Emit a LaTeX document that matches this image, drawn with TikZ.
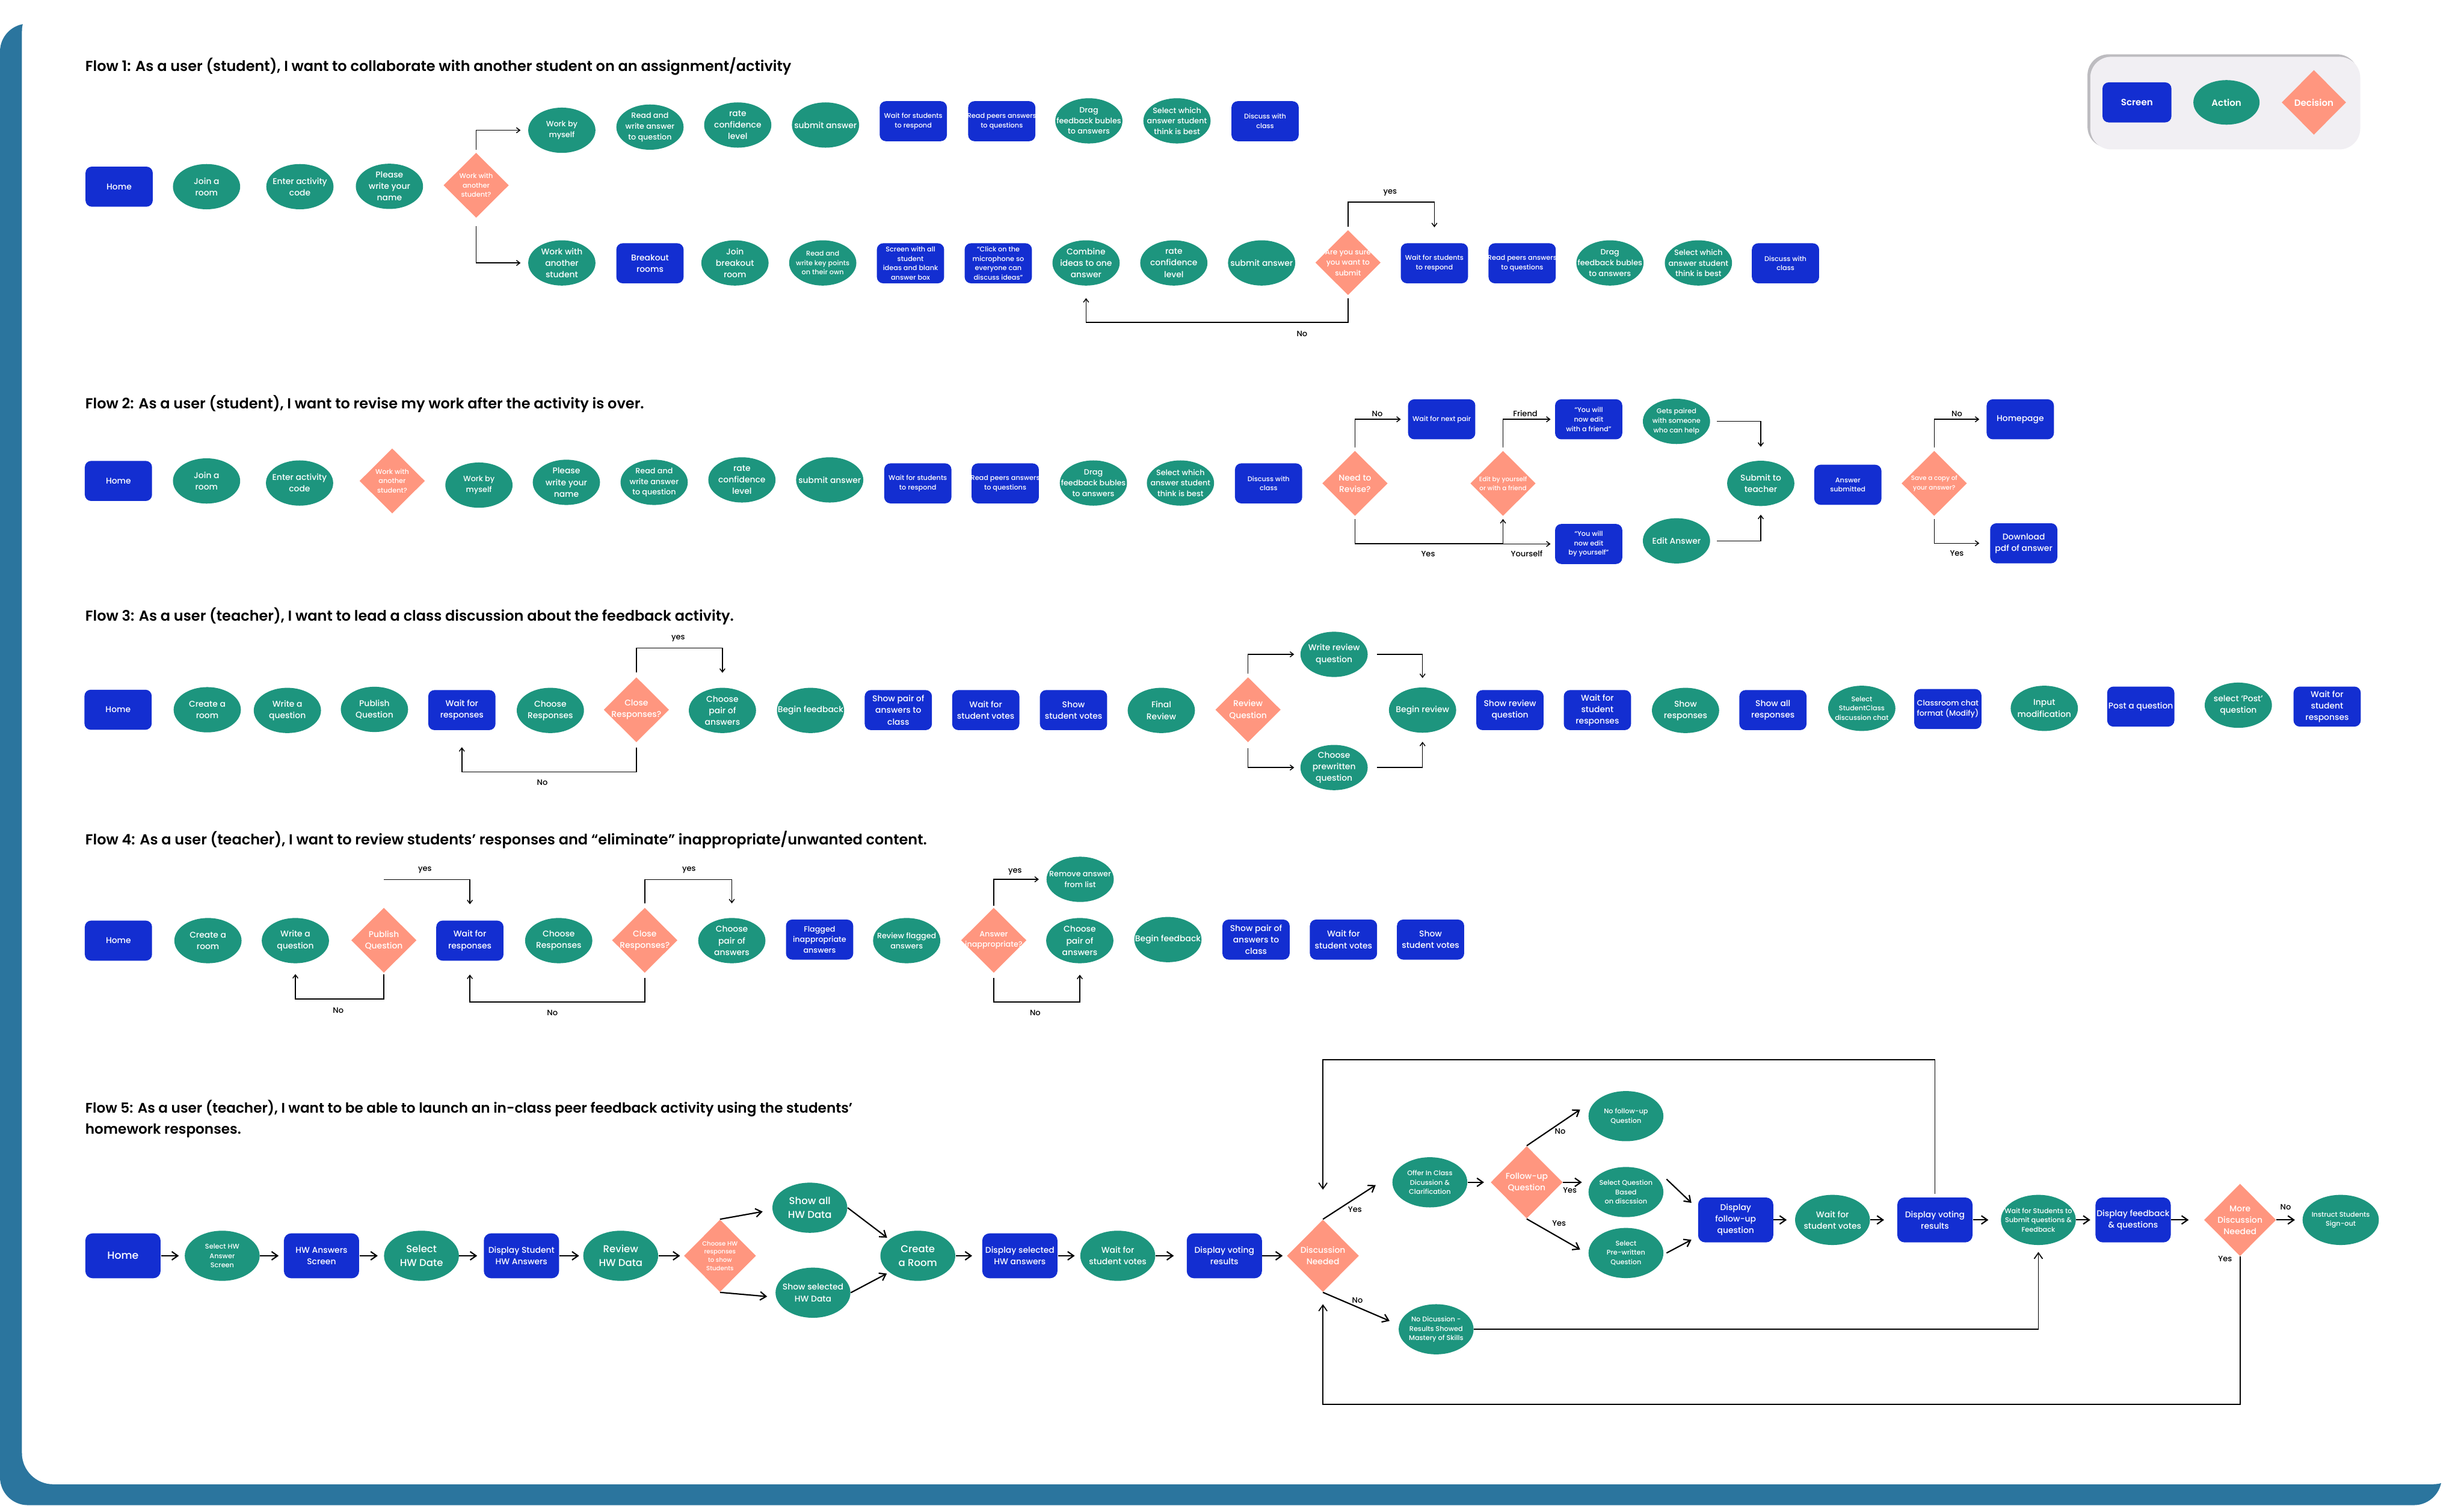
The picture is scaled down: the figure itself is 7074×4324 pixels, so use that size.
\documentclass[tikz,border=0pt]{standalone}
\usepackage{fontspec}
\usetikzlibrary{shapes.geometric,arrows.meta}
\setmainfont{Poppins}
\IfFontExistsTF{Poppins Medium}{\newfontfamily\nodefont{Poppins Medium}}{\newfontfamily\nodefont{Poppins}}
\IfFontExistsTF{Poppins SemiBold}{\newfontfamily\headfont{Poppins SemiBold}}{\newfontfamily\headfont{Poppins}}
\definecolor{scrblue}{HTML}{132ED1}
\definecolor{actteal}{HTML}{1D957E}
\definecolor{decsalmon}{HTML}{FF967F}
\definecolor{frameblue}{HTML}{2B759E}
\definecolor{legbg}{HTML}{F1EFF3}
\definecolor{legshadow}{HTML}{BDBCC0}
\newcommand\fzH{\fontsize{6pt}{8pt}\selectfont}
\newcommand\fzL{\fontsize{5.7pt}{8pt}\selectfont}
\newcommand\fzN{\fontsize{4.8pt}{6.6pt}\selectfont}
\newcommand\fzM{\fontsize{4.4pt}{6.1pt}\selectfont}
\newcommand\fzD{\fontsize{4.2pt}{6pt}\selectfont}
\newcommand\fzS{\fontsize{3.9pt}{5.4pt}\selectfont}
\newcommand\fzT{\fontsize{3.6pt}{5.3pt}\selectfont}
\newcommand\fzX{\fontsize{3.5pt}{4.7pt}\selectfont}
\newcommand\fzLeg{\headfont\fontsize{5.2pt}{6pt}\selectfont}
\newcommand\mkNode[5][\fzS]{\node[#2] (#3) at (#4) {};\node[txt,font=\nodefont#1] (#3t) at (#3.center) {#5};}
\tikzset{
  scr/.style={rectangle, fill=scrblue, rounded corners=3.6pt, minimum width=38.6pt, minimum height=23pt, inner sep=0pt},
  act/.style={ellipse, fill=actteal, minimum width=38.6pt, minimum height=26pt, inner sep=0pt},
  dec/.style={diamond, fill=decsalmon, minimum width=37.6pt, minimum height=37.4pt, inner sep=0pt},
  scrF/.style={rectangle, fill=scrblue, rounded corners=4.2pt, minimum width=43.2pt, minimum height=25.8pt, inner sep=0pt},
  actF/.style={ellipse, fill=actteal, minimum width=43pt, minimum height=28.8pt, inner sep=0pt},
  decF/.style={diamond, fill=decsalmon, minimum width=41.4pt, minimum height=41.6pt, inner sep=0pt},
  txt/.style={text=white, align=center, inner sep=0pt},
  lbl/.style={text=black, inner sep=0pt, font=\nodefont\fontsize{4.5pt}{5pt}\selectfont},
  title/.style={text=black, inner sep=0pt, anchor=west, font=\headfont\fontsize{8.3pt}{10pt}\selectfont},
  titleF/.style={text=black, inner sep=0pt, anchor=west, font=\headfont\fontsize{8pt}{10pt}\selectfont},
  conn/.style={draw=black, line width=0.5pt, -{Straight Barb[length=2pt,width=3pt]}},
  conn5/.style={draw=black, line width=0.75pt, -{Straight Barb[length=3.4pt,width=4.8pt]}},
  loop5/.style={draw=black, line width=0.6pt, -{Straight Barb[length=3.4pt,width=4.8pt]}}
}
\begin{document}
\begin{tikzpicture}[x=0.2pt,y=-0.2pt]
\useasboundingbox (0,0) rectangle (7074,4324);
\fill[frameblue, rounded corners=16pt] (0,68) rectangle (7010,4322);
\fill[white, rounded corners=18pt] (63,0) rectangle (7074,4262);

% legend
\fill[legshadow, rounded corners=12pt] (5993,156) rectangle (6770,424);
\fill[legbg, rounded corners=12pt] (6001,163) rectangle (6776,429);
\mkNode[\fzLeg]{scr, minimum width=39.6pt}{lgS}{6135,294}{Screen}
\mkNode[\fzLeg]{act, minimum width=38pt, minimum height=25.6pt}{lgA}{6392,294}{Action}
\mkNode[\fzLeg]{dec, minimum width=37pt, minimum height=37.2pt}{lgD}{6643,294}{Decision}

% ---------------- Flow 1
\node[title] (t1) at (244,190) {Flow 1: As a user (student), I want to collaborate with another student on an assignment/activity};
\mkNode[\fzN]{scr}{f1home}{342,536}{Home}
\mkNode[\fzN]{act}{f1join}{593,536}{Join a\\room}
\mkNode[\fzN]{act}{f1code}{861,536}{Enter activity\\code}
\mkNode[\fzN]{act}{f1name}{1118,535}{Please\\write your\\name}
\mkNode[\fzS]{dec}{f1d}{1367,532}{Work with\\another\\student?}
\mkNode[\fzM]{act}{f1a1}{1613,374}{Work by\\myself}
\mkNode[\fzM]{act}{f1a2}{1866,365}{Read and\\write answer\\to question}
\mkNode[\fzN]{act}{f1a3}{2118,359}{rate\\confidence\\level}
\mkNode[\fzN]{act}{f1a4}{2370,359}{submit answer}
\mkNode[\fzS]{scr}{f1a5}{2622,348}{Wait for students\\to respond}
\mkNode[\fzS]{scr}{f1a6}{2876,348}{Read peers answers\\to questions}
\mkNode[\fzM]{act}{f1a7}{3126,347}{Drag\\feedback bubles\\to answers}
\mkNode[\fzM]{act}{f1a8}{3379,347}{Select which\\answer student\\think is best}
\mkNode[\fzS]{scr}{f1a9}{3632,348}{Discuss with\\class}
\mkNode[\fzN]{act}{f1b1}{1613,755}{Work with\\another\\student}
\mkNode[\fzN]{scr}{f1b2}{1866,756}{Breakout\\rooms}
\mkNode[\fzN]{act}{f1b3}{2110,755}{Join\\breakout\\room}
\mkNode[\fzS]{act}{f1b4}{2362,755}{Read and\\write key points\\on their own}
\mkNode[\fzS]{scr}{f1b5}{2614,756}{Screen with all\\student\\ideas and blank\\answer box}
\mkNode[\fzS]{scr}{f1b6}{2866,756}{“Click on the\\microphone so\\everyone can\\discuss ideas”}
\mkNode[\fzN]{act}{f1b7}{3118,755}{Combine\\ideas to one\\answer}
\mkNode[\fzN]{act}{f1b8}{3370,755}{rate\\confidence\\level}
\mkNode[\fzN]{act}{f1b9}{3622,755}{submit answer}
\mkNode[\fzD]{dec}{f1d2}{3870,754}{Are you sure\\you want to\\submit}
\mkNode[\fzS]{scr}{f1c1}{4118,756}{Wait for students\\to respond}
\mkNode[\fzS]{scr}{f1c2}{4370,756}{Read peers answers\\to questions}
\mkNode[\fzM]{act}{f1c3}{4622,755}{Drag\\feedback bubles\\to answers}
\mkNode[\fzM]{act}{f1c4}{4876,755}{Select which\\answer student\\think is best}
\mkNode[\fzS]{scr}{f1c5}{5126,756}{Discuss with\\class}
\draw[conn, shorten <=1.6pt, shorten >=4.2pt] (f1d.north) |- (f1a1.west);
\draw[conn, shorten <=4.4pt, shorten >=4.2pt] (f1d.south) |- (f1b1.west);
\draw[conn, shorten <=1.6pt, shorten >=9pt] (f1d2.north) -- ++(0,-79) -| (f1c1.north);
\draw[conn, shorten <=1.6pt, shorten >=7pt] (f1d2.south) -- ++(0,77) -| (f1b7.south);
\node[lbl] (f1ly) at (3991,554) {yes};
\node[lbl] (f1ln) at (3738,958) {No};

% ---------------- Flow 2
\node[title] (t2) at (244,1160) {Flow 2: As a user (student), I want to revise my work after the activity is over.};
\mkNode[\fzN]{scr}{f2home}{340,1381}{Home}
\mkNode[\fzN]{act}{f2join}{593,1381}{Join a\\room}
\mkNode[\fzN]{act}{f2code}{860,1387}{Enter activity\\code}
\mkNode[\fzS]{dec}{f2d}{1126,1381}{Work with\\another\\student?}
\mkNode[\fzM]{act}{f2n1}{1375,1393}{Work by\\myself}
\mkNode[\fzN]{act}{f2n2}{1626,1385}{Please\\write your\\name}
\mkNode[\fzM]{act}{f2n3}{1878,1385}{Read and\\write answer\\to question}
\mkNode[\fzN]{act}{f2n4}{2130,1378}{rate\\confidence\\level}
\mkNode[\fzN]{act}{f2n5}{2382,1378}{submit answer}
\mkNode[\fzS]{scr}{f2n6}{2635,1388}{Wait for students\\to respond}
\mkNode[\fzS]{scr}{f2n7}{2886,1388}{Read peers answers\\to questions}
\mkNode[\fzM]{act}{f2n8}{3139,1387}{Drag\\feedback bubles\\to answers}
\mkNode[\fzM]{act}{f2n9}{3389,1387}{Select which\\answer student\\think is best}
\mkNode[\fzS]{scr}{f2n10}{3642,1388}{Discuss with\\class}
\mkNode[\fzN]{dec}{f2rev}{3890,1388}{Need to\\Revise?}
\mkNode[\fzS]{scr}{f2wait}{4139,1204}{Wait for next pair}
\mkNode[\fzT]{dec}{f2edit}{4315,1388}{Edit by yourself\\or with a friend}
\mkNode[\fzS]{scr}{f2fr}{4561,1204}{“You will\\now edit\\with a friend”}
\mkNode[\fzS]{act}{f2gets}{4813,1210}{Gets paired\\with someone\\who can help}
\mkNode[\fzS]{scr}{f2self}{4561,1562}{“You will\\now edit\\by yourself”}
\mkNode[\fzN]{act}{f2ea}{4813,1553}{Edit Answer}
\mkNode[\fzN]{act}{f2sub}{5055,1388}{Submit to\\teacher}
\mkNode[\fzS]{scr}{f2as}{5305,1392}{Answer\\submitted}
\mkNode[\fzT]{dec}{f2save}{5553,1388}{Save a copy of\\your answer?}
\mkNode[\fzN]{scr}{f2hp}{5800,1204}{Homepage}
\mkNode[\fzN]{scr}{f2pdf}{5810,1560}{Download\\pdf of answer}
\draw[conn, shorten <=1.8pt, shorten >=4pt] (f2rev.north) |- (f2wait.west);
\draw[conn, shorten <=1.6pt, shorten >=1.6pt] (f2rev.south) -- ++(0,79) -| (f2edit.south);
\draw[conn, shorten <=1.8pt, shorten >=2.4pt] (f2edit.north) |- (f2fr.west);
\draw[conn, shorten <=1.6pt, shorten >=2.4pt] (f2edit.south) |- (f2self.west);
\draw[conn, shorten <=3.6pt, shorten >=7.8pt] (f2gets.east) -| (f2sub.north);
\draw[conn, shorten <=3.6pt, shorten >=4.8pt] (f2ea.east) -| (f2sub.south);
\draw[conn, shorten <=1.8pt, shorten >=4pt] (f2save.north) |- (f2hp.west);
\draw[conn, shorten <=1.6pt, shorten >=6pt] (f2save.south) |- (f2pdf.west);
\node[lbl] (f2l1) at (3954,1188) {No};
\node[lbl] (f2l2) at (4100,1591) {Yes};
\node[lbl] (f2l3) at (4379,1188) {Friend};
\node[lbl] (f2l4) at (4383,1589) {Yourself};
\node[lbl] (f2l5) at (5618,1188) {No};
\node[lbl] (f2l6) at (5618,1589) {Yes};

% ---------------- Flow 3
\node[title] (t3) at (244,1770) {Flow 3: As a user (teacher), I want to lead a class discussion about the feedback activity.};
\mkNode[\fzN]{scr}{f3home}{339,2038}{Home}
\mkNode[\fzN]{act}{f3c1}{595,2038}{Create a\\room}
\mkNode[\fzN]{act}{f3c2}{825,2040}{Write a\\question}
\mkNode[\fzN]{act}{f3c3}{1075,2037}{Publish\\Question}
\mkNode[\fzN]{scr}{f3c4}{1326,2039}{Wait for\\responses}
\mkNode[\fzN]{act}{f3c5}{1580,2040}{Choose\\Responses}
\mkNode[\fzN]{dec}{f3d}{1827,2038}{Close\\Responses?}
\mkNode[\fzN]{act}{f3c6}{2074,2040}{Choose\\pair of\\answers}
\mkNode[\fzN]{act}{f3c7}{2327,2040}{Begin feedback}
\mkNode[\fzN]{scr}{f3c8}{2579,2039}{Show pair of\\answers to\\class}
\mkNode[\fzN]{scr}{f3c9}{2830,2039}{Wait for\\student votes}
\mkNode[\fzN]{scr}{f3c10}{3082,2039}{Show\\student votes}
\mkNode[\fzN]{act}{f3c11}{3334,2040}{Final\\Review}
\mkNode[\fzN]{dec}{f3d2}{3583,2038}{Review\\Question}
\mkNode[\fzN]{act}{f3w}{3830,1879}{Write review\\question}
\mkNode[\fzN]{act}{f3p}{3830,2204}{Choose\\prewritten\\question}
\mkNode[\fzN]{act}{f3br}{4084,2039}{Begin review}
\mkNode[\fzN]{scr}{f3c12}{4335,2039}{Show review\\question}
\mkNode[\fzN]{scr}{f3c13}{4586,2039}{Wait for\\student\\responses}
\mkNode[\fzN]{act}{f3c14}{4839,2040}{Show\\responses}
\mkNode[\fzN]{scr}{f3c15}{5090,2039}{Show all\\responses}
\mkNode[\fzS]{act}{f3c16}{5345,2034}{Select\\StudentClass\\discussion chat}
\mkNode[\fzM]{scr}{f3c17}{5592,2036}{Classroom chat\\format (Modify)}
\mkNode[\fzN]{act}{f3c18}{5869,2034}{Input\\modification}
\mkNode[\fzN]{scr}{f3c19}{6146,2029}{Post a question}
\mkNode[\fzN]{act}{f3c20}{6426,2025}{select ‘Post’\\question}
\mkNode[\fzN]{scr}{f3c21}{6681,2029}{Wait for\\student\\responses}
\draw[conn, shorten <=2.6pt, shorten >=8.4pt] (f3d.north) -- ++(0,-83) -| (f3c6.north);
\draw[conn, shorten <=2.8pt, shorten >=9.6pt] (f3d.south) -- ++(0,84) -| (f3c4.south);
\draw[conn, shorten <=1.8pt, shorten >=3.4pt] (f3d2.north) |- (f3w.west);
\draw[conn, shorten <=5.2pt, shorten >=5.2pt] (f3w.east) -| (f3br.north);
\draw[conn, shorten <=3.2pt, shorten >=3.4pt] (f3d2.south) |- (f3p.west);
\draw[conn, shorten <=5.2pt, shorten >=5pt] (f3p.east) -| (f3br.south);
\node[lbl] (f3l1) at (1947,1834) {yes};
\node[lbl] (f3l2) at (1557,2247) {No};

% ---------------- Flow 4
\node[title] (t4) at (244,2412) {Flow 4: As a user (teacher), I want to review students’ responses and “eliminate” inappropriate/unwanted content.};
\mkNode[\fzN]{scr}{f4home}{340,2701}{Home}
\mkNode[\fzN]{act}{f4c1}{597,2701}{Create a\\room}
\mkNode[\fzN]{act}{f4c2}{848,2701}{Write a\\question}
\mkNode[\fzN]{dec}{f4d1}{1102,2700}{Publish\\Question}
\mkNode[\fzN]{scr}{f4c3}{1349,2701}{Wait for\\responses}
\mkNode[\fzN]{act}{f4c4}{1604,2701}{Choose\\Responses}
\mkNode[\fzN]{dec}{f4d2}{1851,2700}{Close\\Responses?}
\mkNode[\fzN]{act}{f4c5}{2101,2701}{Choose\\pair of\\answers}
\mkNode[\fzM]{scr}{f4c6}{2353,2698}{Flagged\\inappropriate\\answers}
\mkNode[\fzM]{act}{f4c7}{2603,2701}{Review flagged\\answers}
\mkNode[\fzM]{dec}{f4d3}{2853,2700}{Answer\\inappropriate?}
\mkNode[\fzM]{act}{f4rm}{3101,2525}{Remove answer\\from list}
\mkNode[\fzN]{act}{f4c8}{3100,2701}{Choose\\pair of\\answers}
\mkNode[\fzN]{act}{f4c9}{3353,2698}{Begin feedback}
\mkNode[\fzN]{scr}{f4c10}{3606,2698}{Show pair of\\answers to\\class}
\mkNode[\fzN]{scr}{f4c11}{3857,2698}{Wait for\\student votes}
\mkNode[\fzN]{scr}{f4c12}{4107,2698}{Show\\student votes}
\coordinate (f4y1) at (1102,2526);
\draw[conn, shorten >=9.2pt] (f4y1) -| (f4c3.north);
\draw[conn, shorten <=0.8pt, shorten >=6pt] (f4d1.south) -- ++(0,74) -| (f4c2.south);
\draw[conn, shorten <=2.2pt, shorten >=8.2pt] (f4d2.north) -- ++(0,-80) -| (f4c5.north);
\draw[conn, shorten <=2.6pt, shorten >=7.8pt] (f4d2.south) -- ++(0,83) -| (f4c3.south);
\draw[conn, shorten <=1pt, shorten >=4.2pt] (f4d3.north) |- (f4rm.west);
\draw[conn, shorten <=2.6pt, shorten >=6.4pt] (f4d3.south) -- ++(0,83) -| (f4c8.south);
\node[lbl] (f4l1) at (1220,2499) {yes};
\node[lbl] (f4l2) at (971,2901) {No};
\node[lbl] (f4l3) at (1978,2499) {yes};
\node[lbl] (f4l4) at (1586,2909) {No};
\node[lbl] (f4l5) at (2914,2503) {yes};
\node[lbl] (f4l6) at (2972,2909) {No};

% ---------------- Flow 5
\node[titleF] (t5a) at (244,3183) {Flow 5: As a user (teacher), I want to be able to launch an in-class peer feedback activity using the students’};
\node[titleF] (t5b) at (244,3246) {homework responses.};
\mkNode[\fzH]{scrF}{f5home}{353,3606}{Home}
\mkNode[\fzS]{actF}{f5selhw}{638,3606}{Select HW\\Answer\\Screen}
\mkNode[\fzN]{scrF}{f5hwans}{923,3606}{HW Answers\\Screen}
\mkNode[\fzL]{actF}{f5seldate}{1210,3606}{Select\\HW Date}
\mkNode[\fzN]{scrF}{f5disp}{1497,3606}{Display Student\\HW Answers}
\mkNode[\fzL]{actF}{f5rev}{1782,3606}{Review\\HW Data}
\mkNode[\fzX]{decF}{f5choose}{2067,3606}{Choose HW\\responses\\to show\\Students}
\mkNode[\fzL]{actF}{f5showall}{2325,3468}{Show all\\HW Data}
\mkNode[\fzN]{actF}{f5showsel}{2334,3712}{Show selected\\HW Data}
\mkNode[\fzL]{actF}{f5create}{2635,3606}{Create\\a Room}
\mkNode[\fzN]{scrF}{f5dsel}{2928,3606}{Display selected\\HW answers}
\mkNode[\fzN]{actF}{f5wv}{3209,3606}{Wait for\\student votes}
\mkNode[\fzN]{scrF}{f5dvr}{3515,3606}{Display voting\\results}
\mkNode[\fzN]{decF}{f5disc}{3798,3606}{Discussion\\Needed}
\mkNode[\fzS]{actF}{f5offer}{4105,3395}{Offer In Class\\Dicussion \&\\Clarification}
\mkNode[\fzS]{actF}{f5nodisc}{4123,3817}{No Dicussion -\\Results Showed\\Mastery of Skills}
\mkNode[\fzN]{decF}{f5follow}{4383,3395}{Follow-up\\Question}
\mkNode[\fzS]{actF}{f5nofu}{4668,3205}{No follow-up\\Question}
\mkNode[\fzS]{actF}{f5selq}{4668,3423}{Select Question\\Based\\on discssion}
\mkNode[\fzS]{actF}{f5prew}{4668,3598}{Select\\Pre-written\\Question}
\mkNode[\fzN]{scrF}{f5dfu}{4983,3503}{Display\\follow-up\\question}
\mkNode[\fzN]{actF}{f5wv2}{5261,3503}{Wait for\\student votes}
\mkNode[\fzN]{scrF}{f5dvr2}{5555,3503}{Display voting\\results}
\mkNode[\fzS]{actF}{f5wsub}{5852,3503}{Wait for Students to\\Submit questions \&\\Feedback}
\mkNode[\fzN]{scrF}{f5dfq}{6124,3503}{Display feedback\\\& questions}
\mkNode[\fzN]{decF}{f5more}{6431,3503}{More\\Discussion\\Needed}
\mkNode[\fzS]{actF, minimum width=43.8pt}{f5inst}{6720,3503}{Instruct Students\\Sign-out}
\draw[conn5, shorten >=3.2pt] (f5home) -- (f5selhw);
\draw[conn5, shorten >=2.8pt] (f5selhw) -- (f5hwans);
\draw[conn5, shorten >=3.4pt] (f5hwans) -- (f5seldate);
\draw[conn5, shorten >=3.6pt] (f5seldate) -- (f5disp);
\draw[conn5, shorten >=2.2pt] (f5disp) -- (f5rev);
\draw[conn5, shorten >=2pt] (f5rev) -- (f5choose);
\draw[conn5] (f5choose.north) -- ([shift={(-27,11)}]f5showall.west);
\draw[conn5] (f5choose.south) -- ([shift={(-23,11)}]f5showsel.west);
\draw[conn5, shorten >=1.5pt] (f5showall.east) -- (f5create.150);
\draw[conn5, shorten >=1.5pt] (f5showsel.east) -- (f5create.210);
\draw[conn5, shorten >=5.6pt] (f5create) -- (f5dsel);
\draw[conn5, shorten >=3pt] (f5dsel) -- (f5wv);
\draw[conn5, shorten >=7.2pt] (f5wv) -- (f5dvr);
\draw[conn5, shorten >=2.2pt] (f5dvr) -- (f5disc);
\draw[conn5] (f5disc.north) -- ([shift={(-47,8)}]f5offer.west);
\draw[conn5] (f5disc.south) -- ([shift={(-25,-24)}]f5nodisc.west);
\draw[conn5, shorten >=3.6pt] (f5offer) -- (f5follow);
\draw[conn5] (f5follow.north) -- ([shift={(-23,-19)}]f5nofu.west);
\draw[conn5] (f5follow.east) -- ([shift={(-18,-28)}]f5selq.west);
\draw[conn5] (f5follow.south) -- ([shift={(-23,-10)}]f5prew.west);
\draw[conn5] ([shift={(8,-37)}]f5selq.east) -- ([shift={(-18,-49)}]f5dfu.west);
\draw[conn5] ([shift={(8,0)}]f5prew.east) -- ([shift={(-18,57)}]f5dfu.west);
\draw[conn5, shorten >=4.6pt] (f5dfu) -- (f5wv2);
\draw[conn5, shorten >=7.4pt] (f5wv2) -- (f5dvr2);
\draw[conn5, shorten >=7pt] (f5dvr2) -- (f5wsub);
\draw[conn5, shorten >=2.8pt] (f5wsub) -- (f5dfq);
\draw[conn5, shorten >=8.6pt] (f5dfq) -- (f5more);
\draw[conn5, shorten >=4.2pt] (f5more) -- (f5inst);
\draw[loop5, shorten <=2pt, shorten >=17pt] (f5dvr2.north) -- ++(0,-394) -| (f5disc.north);
\draw[loop5, shorten >=6.8pt] (f5more.south) -- ++(0,425) -| (f5disc.south);
\draw[loop5, shorten >=3.8pt] (f5nodisc.east) -| (f5wsub.south);
\node[lbl] (f5l1) at (3890,3473) {Yes};
\node[lbl] (f5l2) at (3897,3733) {No};
\node[lbl] (f5l3) at (4479,3249) {No};
\node[lbl] (f5l4) at (4507,3417) {Yes};
\node[lbl] (f5l5) at (4476,3512) {Yes};
\node[lbl] (f5l6) at (6562,3466) {No};
\node[lbl] (f5l7) at (6388,3615) {Yes};
\end{tikzpicture}
\end{document}
